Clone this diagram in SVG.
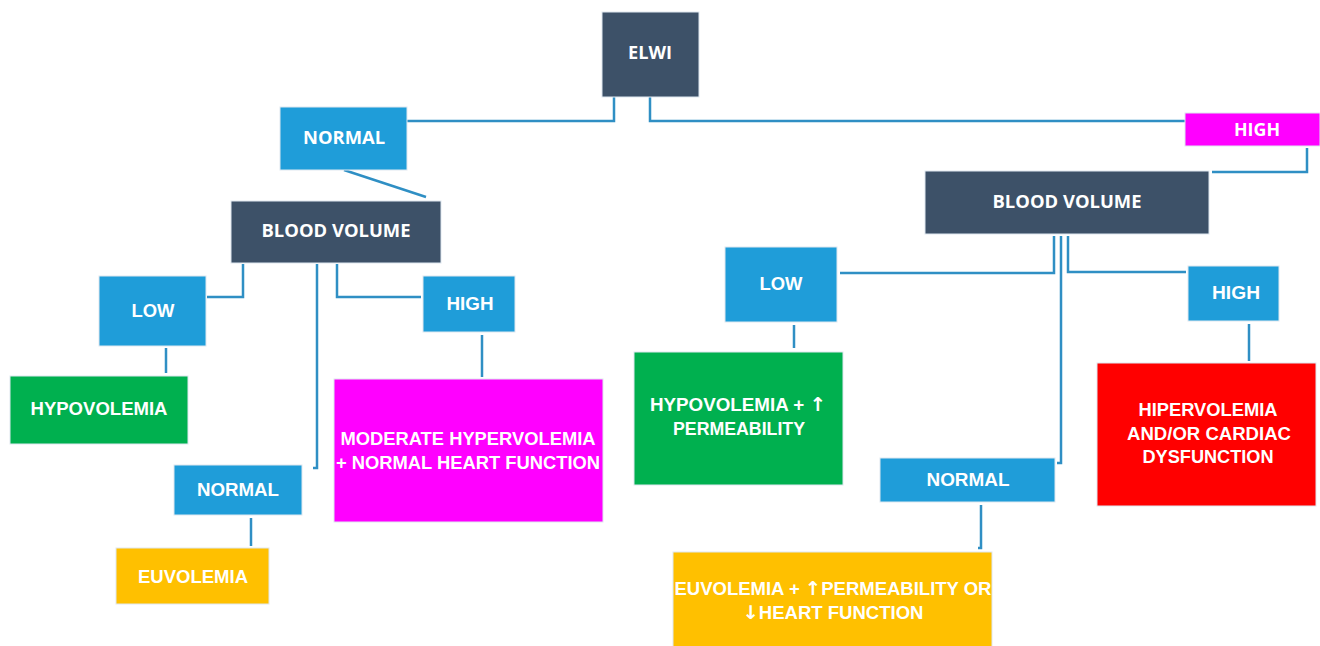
<svg xmlns="http://www.w3.org/2000/svg" width="1320" height="646" viewBox="0 0 1320 646">
<style>
.box{stroke:#dfe8f0;stroke-width:1}
.dark{fill:#3d5168}
.blue{fill:#1f9dd9}
.green{fill:#00b04f}
.yellow{fill:#ffc000}
.mag{fill:#ff00ff}
.red{fill:#ff0000}
.t1{font-family:"Open Sans","Liberation Sans",sans-serif;font-weight:700;font-size:17px;fill:#fff;text-anchor:middle}
.t2{font-family:"Liberation Sans",Arial,sans-serif;font-weight:700;font-size:18px;fill:#fff;text-anchor:middle}
.ar{font-family:"DejaVu Sans",sans-serif;font-weight:700;font-size:19px}
.c{fill:none;stroke:#2f8fc4;stroke-width:2.5}
</style>
<rect width="1320" height="646" fill="#fff"/>
<g id="connectors">
<polyline class="c" points="407,121 614,121 614,97"/>
<polyline class="c" points="650,97 650,121 1185,121"/>
<polyline class="c" points="1307,148 1307,172 1212,172"/>
<polyline class="c" points="344,170 426,197"/>
<polyline class="c" points="243,264 243,297 207,297"/>
<polyline class="c" points="166,348 166,373"/>
<polyline class="c" points="317,264 317,468 313,468"/>
<polyline class="c" points="251,518 251,546"/>
<polyline class="c" points="337,264 337,297 421,297"/>
<polyline class="c" points="482,335 482,377"/>
<polyline class="c" points="1054,236 1054,273 840,273"/>
<polyline class="c" points="1061,236 1061,463 1057,463"/>
<polyline class="c" points="1068,236 1068,272 1186,272"/>
<polyline class="c" points="794,325 794,348"/>
<polyline class="c" points="1249,324 1249,361"/>
<polyline class="c" points="981,505 981,548 978,548"/>
</g>
<g id="elwi"><rect class="box dark" x="602" y="12" width="97" height="85"/><text class="t1" x="650" y="59" textLength="44" lengthAdjust="spacingAndGlyphs">ELWI</text></g>
<g id="normal-top"><rect class="box blue" x="280" y="107" width="127" height="63"/><text class="t1" x="344" y="144" textLength="82" lengthAdjust="spacingAndGlyphs">NORMAL</text></g>
<g id="high-top"><rect class="box mag" x="1185" y="113" width="135" height="33"/><text class="t1" x="1257" y="136" textLength="46" lengthAdjust="spacingAndGlyphs">HIGH</text></g>
<g id="bv-left"><rect class="box dark" x="231" y="201" width="210" height="62"/><text class="t1" x="336" y="237" textLength="149" lengthAdjust="spacingAndGlyphs">BLOOD VOLUME</text></g>
<g id="bv-right"><rect class="box dark" x="925" y="171" width="284" height="63"/><text class="t1" x="1067" y="208" textLength="149" lengthAdjust="spacingAndGlyphs">BLOOD VOLUME</text></g>
<g id="low-left"><rect class="box blue" x="99" y="276" width="107" height="70"/><text class="t2" x="153" y="317" textLength="43" lengthAdjust="spacingAndGlyphs">LOW</text></g>
<g id="high-left"><rect class="box blue" x="423" y="276" width="92" height="56"/><text class="t2" x="470" y="310" textLength="47" lengthAdjust="spacingAndGlyphs">HIGH</text></g>
<g id="hypovolemia"><rect class="box green" x="10" y="376" width="178" height="68"/><text class="t2" x="99" y="415" textLength="137" lengthAdjust="spacingAndGlyphs">HYPOVOLEMIA</text></g>
<g id="normal-left"><rect class="box blue" x="174" y="465" width="128" height="50"/><text class="t2" x="238" y="496" textLength="82" lengthAdjust="spacingAndGlyphs">NORMAL</text></g>
<g id="euvolemia"><rect class="box yellow" x="116" y="548" width="153" height="56"/><text class="t2" x="193" y="583" textLength="110" lengthAdjust="spacingAndGlyphs">EUVOLEMIA</text></g>
<g id="moderate"><rect class="box mag" x="334" y="379" width="269" height="143"/><text class="t2" x="468" y="445" textLength="255" lengthAdjust="spacingAndGlyphs">MODERATE HYPERVOLEMIA</text><text class="t2" x="468" y="469" textLength="264" lengthAdjust="spacingAndGlyphs">+ NORMAL HEART FUNCTION</text></g>
<g id="low-right"><rect class="box blue" x="725" y="247" width="112" height="75"/><text class="t2" x="781" y="290" textLength="43" lengthAdjust="spacingAndGlyphs">LOW</text></g>
<g id="high-right"><rect class="box blue" x="1188" y="266" width="91" height="55"/><text class="t2" x="1236" y="299" textLength="48" lengthAdjust="spacingAndGlyphs">HIGH</text></g>
<g id="hypo-perm"><rect class="box green" x="634" y="352" width="209" height="133"/><text class="t2" x="738" y="411" textLength="176" lengthAdjust="spacingAndGlyphs">HYPOVOLEMIA + <tspan class="ar">↑</tspan></text><text class="t2" x="739" y="435" textLength="132" lengthAdjust="spacingAndGlyphs">PERMEABILITY</text></g>
<g id="normal-right"><rect class="box blue" x="880" y="458" width="175" height="44"/><text class="t2" x="968" y="486" textLength="83" lengthAdjust="spacingAndGlyphs">NORMAL</text></g>
<g id="hipervolemia"><rect class="box red" x="1097" y="363" width="219" height="143"/><text class="t2" x="1208" y="416" textLength="139" lengthAdjust="spacingAndGlyphs">HIPERVOLEMIA</text><text class="t2" x="1209" y="440" textLength="164" lengthAdjust="spacingAndGlyphs">AND/OR CARDIAC</text><text class="t2" x="1208" y="463" textLength="131" lengthAdjust="spacingAndGlyphs">DYSFUNCTION</text></g>
<g id="euv-perm"><rect class="box yellow" x="673" y="552" width="319" height="96"/><text class="t2" x="833" y="595" textLength="317" lengthAdjust="spacingAndGlyphs">EUVOLEMIA + <tspan class="ar">↑</tspan>PERMEABILITY OR</text><text class="t2" x="833" y="619" textLength="181" lengthAdjust="spacingAndGlyphs"><tspan class="ar">↓</tspan>HEART FUNCTION</text></g>
</svg>
